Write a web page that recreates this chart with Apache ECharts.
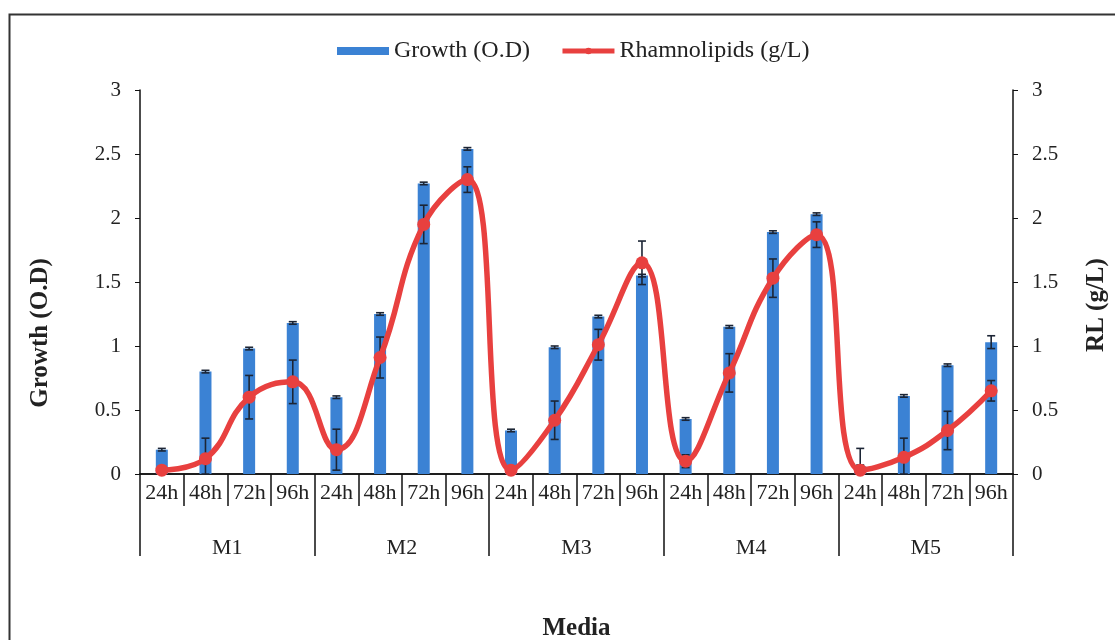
<!DOCTYPE html>
<html>
<head>
<meta charset="utf-8">
<script src="https://cdn.jsdelivr.net/npm/echarts@6/dist/echarts.min.js"></script>
<style>
html,body{margin:0;padding:0;background:#fff;}
#chart{width:1115px;height:640px;}
</style>
</head>
<body>
<div id="chart"></div>
<script>
const timeLabels = ['24h','48h','72h','96h','24h','48h','72h','96h','24h','48h','72h','96h','24h','48h','72h','96h','24h','48h','72h','96h'];
const mediaLabels = ['M1','M2','M3','M4','M5'];
const growth = [0.19,0.80,0.98,1.18, 0.60,1.25,2.27,2.54, 0.34,0.99,1.23,1.55, 0.43,1.15,1.89,2.03, 0.06,0.61,0.85,1.03];
const growthErr = [0.01,0.01,0.01,0.01, 0.01,0.01,0.01,0.01, 0.01,0.01,0.01,0.01, 0.01,0.01,0.01,0.01, 0.01,0.01,0.01,0.05];
const rhamnolipids = [0.03,0.12,0.60,0.72, 0.19,0.91,1.95,2.30, 0.03,0.42,1.01,1.65, 0.10,0.79,1.53,1.87, 0.03,0.13,0.34,0.65];
const rlErr = [0.02,0.16,0.17,0.17, 0.16,0.16,0.15,0.10, 0.02,0.15,0.12,0.17, 0.05,0.15,0.15,0.10, 0.17,0.15,0.15,0.08];
const yTicks = [0,0.5,1,1.5,2,2.5,3];

const font = 'Liberation Serif';
const chart = echarts.init(document.getElementById('chart'));

function errData(vals, errs){
  return vals.map((v,i)=>[i, Math.max(0, v-errs[i]), v+errs[i]]);
}
function errRender(params, api){
  const x = api.value(0);
  const lo = api.coord([x, api.value(1)]);
  const hi = api.coord([x, api.value(2)]);
  const hw = 4;
  const st = {stroke:'#1c2535', lineWidth:1.6};
  return {type:'group', children:[
    {type:'line', shape:{x1:hi[0],y1:hi[1],x2:lo[0],y2:lo[1]}, style:st},
    {type:'line', shape:{x1:hi[0]-hw,y1:hi[1],x2:hi[0]+hw,y2:hi[1]}, style:st},
    {type:'line', shape:{x1:lo[0]-hw,y1:lo[1],x2:lo[0]+hw,y2:lo[1]}, style:st}
  ]};
}

const yAxisBase = {
  type:'value', min:yTicks[0], max:yTicks[yTicks.length-1], interval:0.5,
  splitLine:{show:false},
  axisLine:{show:true, lineStyle:{color:'#111', width:1.5}},
  axisTick:{show:true, length:5, lineStyle:{color:'#111'}},
  axisLabel:{color:'#222', fontFamily:font, fontSize:21, margin:19}
};

chart.setOption({
  animation:false,
  backgroundColor:'#fff',
  graphic:[
    {type:'rect', left:7, top:12, shape:{width:1130, height:650}, style:{fill:'none', stroke:'#333', lineWidth:2}, silent:true},
    {type:'text', x:41, y:333, rotation:Math.PI/2, style:{text:'Growth (O.D)', fill:'#222', font:'bold 25px "Liberation Serif"', align:'center', verticalAlign:'middle'}, silent:true},
    {type:'text', x:1097, y:305, rotation:Math.PI/2, style:{text:'RL (g/L)', fill:'#222', font:'bold 25px "Liberation Serif"', align:'center', verticalAlign:'middle'}, silent:true}
  ],
  legend:{
    top:34, left:332, itemGap:30, itemWidth:52, itemHeight:8,
    textStyle:{fontFamily:font, fontSize:24, color:'#222'},
    data:[{name:'Growth (O.D)', icon:'rect'}, {name:'Rhamnolipids (g/L)', lineStyle:{width:5}}]
  },
  grid:{left:140, right:102, top:90, bottom:166, outerBoundsMode:'none', containLabel:false},
  xAxis:[
    {type:'category', data:timeLabels, position:'bottom',
     axisLine:{show:true, lineStyle:{color:'#111', width:1.5}},
     axisTick:{show:true, interval:0, length:32, lineStyle:{color:'#111', width:1.5}},
     axisLabel:{interval:0, margin:8, color:'#222', fontFamily:font, fontSize:22}},
    {type:'category', data:mediaLabels, position:'bottom',
     axisLine:{show:true, lineStyle:{color:'#111', width:1.5}},
     axisTick:{show:true, interval:0, length:82, lineStyle:{color:'#111', width:1.5}},
     axisLabel:{interval:0, margin:63, color:'#222', fontFamily:font, fontSize:22},
     name:'Media', nameLocation:'middle', nameGap:142,
     nameTextStyle:{color:'#222', fontFamily:font, fontSize:25, fontWeight:'bold'}}
  ],
  yAxis:[
    Object.assign({}, yAxisBase, {position:'left'}),
    Object.assign({}, yAxisBase, {position:'right'})
  ],
  series:[
    {name:'Growth (O.D)', type:'bar', xAxisIndex:0, yAxisIndex:0, data:growth, barWidth:12,
     itemStyle:{color:'#3b82d4'}, z:2},
    {name:'growthErr', type:'custom', xAxisIndex:0, yAxisIndex:0, data:errData(growth, growthErr),
     renderItem:errRender, z:3, silent:true},
    {name:'rlErr', type:'custom', xAxisIndex:0, yAxisIndex:1, data:errData(rhamnolipids, rlErr),
     renderItem:errRender, z:3, silent:true},
    {name:'Rhamnolipids (g/L)', type:'line', xAxisIndex:0, yAxisIndex:1, data:rhamnolipids,
     smooth:0.45, symbol:'circle', symbolSize:13,
     lineStyle:{color:'#e8403f', width:5.5}, itemStyle:{color:'#e8403f'}, z:4}
  ]
});
</script>
</body>
</html>
